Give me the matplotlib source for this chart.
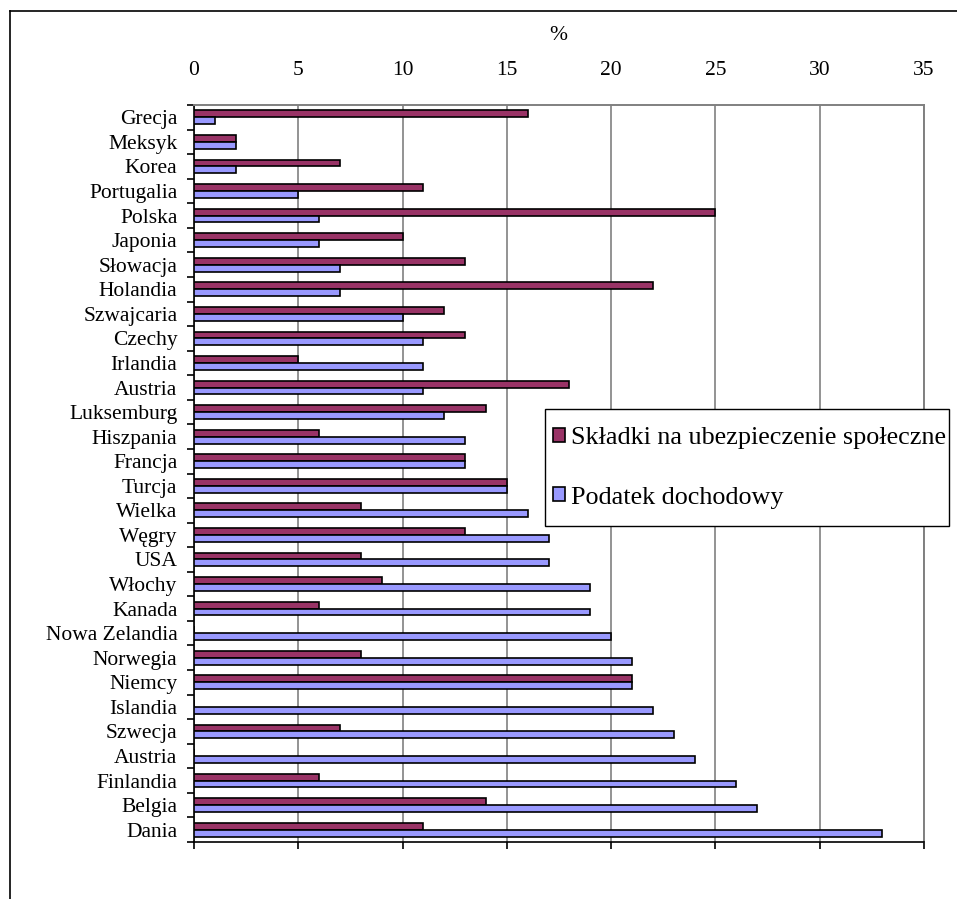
import numpy as np
import matplotlib
matplotlib.use("Agg")
import matplotlib.pyplot as plt
from matplotlib.lines import Line2D
from matplotlib.patches import Rectangle

countries = ["Grecja", "Meksyk", "Korea", "Portugalia", "Polska", "Japonia",
             "Słowacja", "Holandia", "Szwajcaria", "Czechy", "Irlandia",
             "Austria", "Luksemburg", "Hiszpania", "Francja", "Turcja",
             "Wielka", "Węgry", "USA", "Włochy", "Kanada", "Nowa Zelandia",
             "Norwegia", "Niemcy", "Islandia", "Szwecja", "Austria",
             "Finlandia", "Belgia", "Dania"]
skladki = [16, 2, 7, 11, 25, 10, 13, 22, 12, 13, 5, 18, 14, 6, 13, 15,
           8, 13, 8, 9, 6, 0, 8, 21, 0, 7, 0, 6, 14, 11]
podatek = [1, 2, 2, 5, 6, 6, 7, 7, 10, 11, 11, 11, 12, 13, 13, 15,
           16, 17, 17, 19, 19, 20, 21, 21, 22, 23, 24, 26, 27, 33]
xticks = [0, 5, 10, 15, 20, 25, 30, 35]

plt.rcParams['font.family'] = ['Liberation Serif', 'DejaVu Serif']

W, H = 957, 899
fig = plt.figure(figsize=(W / 100, H / 100), dpi=100)
ax = fig.add_axes([194 / W, 1 - 842 / H, (924 - 194) / W, (842 - 105) / H])

y = np.arange(len(countries))
h = 0.28
ax.barh(y - h / 2, skladki, height=h, color="#993366", edgecolor="black",
        linewidth=1.2, label="Składki na ubezpieczenie społeczne", zorder=3)
ax.barh(y + h / 2, podatek, height=h, color="#9999FF", edgecolor="black",
        linewidth=1.2, label="Podatek dochodowy", zorder=3)

ax.set_xlim(0, 35)
ax.set_ylim(len(countries) - 0.5, -0.5)
ax.set_xticks(xticks)
ax.xaxis.grid(True, color="#808080", linewidth=1.2, zorder=0)
ax.tick_params(axis="x", bottom=True, top=False, labelbottom=False,
               labeltop=True, direction="out", length=5, width=1.2,
               labelsize=15.5, pad=13)
ax.set_yticks(y)
ax.set_yticklabels(countries, fontsize=15.5)
ax.tick_params(axis="y", length=0, pad=12)
ax.set_yticks(np.arange(len(countries) + 1) - 0.5, minor=True)
ax.tick_params(axis="y", which="minor", length=5, width=1.2, direction="out")

for s in ["top", "right"]:
    ax.spines[s].set_color("#808080")
    ax.spines[s].set_linewidth(1.4)
for s in ["left", "bottom"]:
    ax.spines[s].set_color("black")
    ax.spines[s].set_linewidth(1.2)

fig.text(558 / W, 1 - 36 / H, "%", fontsize=15.5, ha="center", va="center")

# legend frame drawn separately so its size matches the reference box
fig.add_artist(Rectangle((545 / W, 1 - 526 / H), (949 - 545) / W, (526 - 409) / H,
                         transform=fig.transFigure, facecolor="white",
                         edgecolor="black", linewidth=1.0, zorder=4))
handles, labels = ax.get_legend_handles_labels()
leg = fig.legend(handles, labels, loc="upper left",
                 bbox_to_anchor=(545 / W, 1 - 419 / H), fontsize=18.8,
                 frameon=False, handlelength=0.45, handleheight=0.45,
                 handletextpad=0.25, labelspacing=1.45, borderpad=0.3,
                 borderaxespad=0)
leg.set_zorder(5)

fig.add_artist(Line2D([10 / W, 1], [1 - 11 / H, 1 - 11 / H], color="black", lw=1.2))
fig.add_artist(Line2D([10 / W, 10 / W], [0, 1 - 11 / H], color="black", lw=1.2))

fig.savefig("out.png", dpi=100)
